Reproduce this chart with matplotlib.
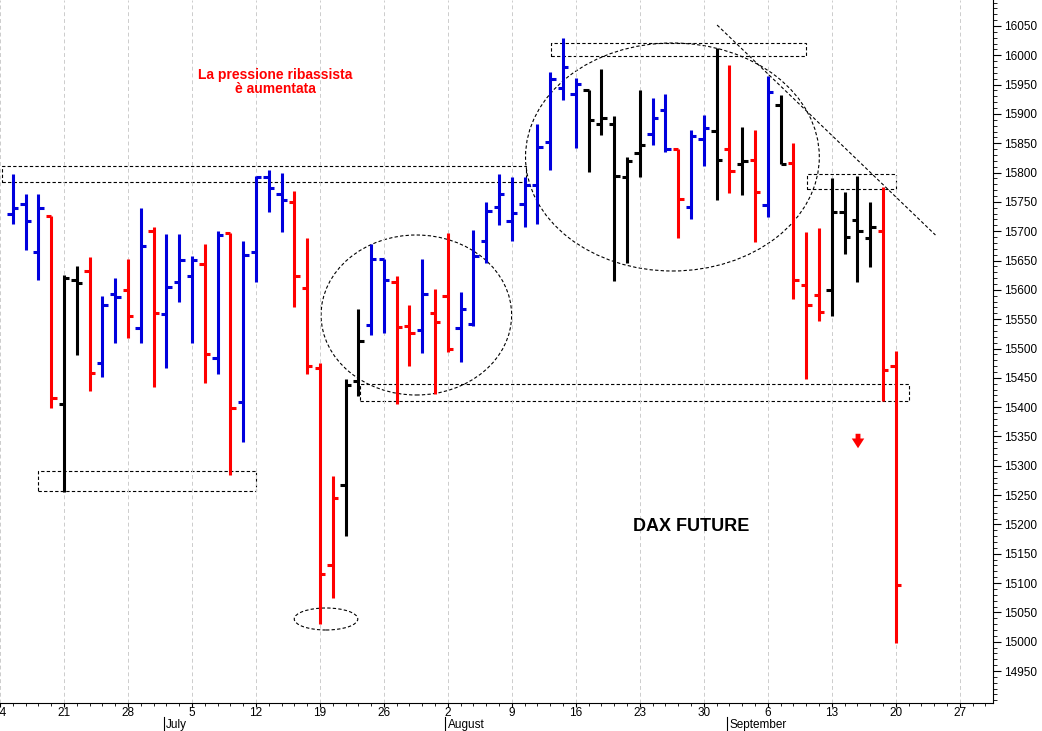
import matplotlib
matplotlib.use("Agg")
import matplotlib.pyplot as plt
from matplotlib.patches import Rectangle, Ellipse
from matplotlib.ticker import MultipleLocator

plt.rcParams['font.family'] = ['Liberation Sans', 'DejaVu Sans']

# trading-day index (0 = Mon 14 June 2021)
idx = list(range(1, 71))
opens = [15730, 15746, 15665, 15726, 15406, 15616, 15633, 15475, 15593, 15600,
         15535, 15701, 15558, 15613, 15623, 15644, 15483, 15697, 15409, 15665,
         15792, 15763, 15749, 15604, 15467, 15130, 15267, 15445, 15540, 15652,
         15613, 15539, 15532, 15561, 15590, 15535, 15541, 15683, 15741, 15718,
         15747, 15779, 15853, 15945, 15934, 15940, 15883, 15883, 15792, 15833,
         15866, 15906, 15841, 15742, 15857, 15871, 15841, 15815, 15821, 15745,
         15915, 15817, 15608, 15591, 15600, 15733, 15719, 15689, 15700, 15470]
highs = [15797, 15763, 15764, 15726, 15626, 15641, 15656, 15590, 15620, 15653,
         15740, 15708, 15695, 15695, 15658, 15679, 15701, 15697, 15683, 15795,
         15805, 15799, 15769, 15688, 15475, 15282, 15448, 15567, 15679, 15652,
         15624, 15575, 15652, 15601, 15697, 15596, 15702, 15749, 15798, 15792,
         15793, 15883, 15972, 16030, 15961, 15940, 15976, 15896, 15827, 15940,
         15928, 15934, 15841, 15873, 15898, 16012, 15983, 15877, 15872, 15964,
         15932, 15851, 15698, 15706, 15791, 15767, 15795, 15750, 15776, 15496]
lows = [15712, 15668, 15617, 15398, 15255, 15489, 15427, 15452, 15510, 15518,
        15510, 15434, 15467, 15579, 15510, 15441, 15457, 15285, 15340, 15613,
        15733, 15698, 15570, 15457, 15030, 15075, 15180, 15419, 15523, 15526,
        15405, 15470, 15492, 15422, 15494, 15477, 15539, 15646, 15710, 15683,
        15708, 15712, 15804, 15923, 15842, 15801, 15864, 15615, 15646, 15792,
        15847, 15835, 15689, 15720, 15812, 15753, 15766, 15762, 15681, 15724,
        15814, 15585, 15448, 15547, 15555, 15661, 15613, 15639, 15411, 14997]
closes = [15739, 15717, 15739, 15415, 15620, 15611, 15458, 15574, 15588, 15556,
          15675, 15560, 15605, 15651, 15651, 15490, 15694, 15399, 15659, 15792,
          15774, 15753, 15623, 15470, 15115, 15245, 15437, 15512, 15652, 15616,
          15537, 15527, 15593, 15546, 15499, 15567, 15658, 15735, 15764, 15731,
          15779, 15844, 15960, 15980, 15951, 15890, 15893, 15795, 15819, 15847,
          15893, 15841, 15755, 15863, 15876, 15821, 15802, 15819, 15767, 15937,
          15815, 15616, 15575, 15563, 15733, 15691, 15701, 15707, 15464, 15096]
colors = list("bbbrkkrbbrbrbbbrbrbbbbrrrrkkbbrrbrrbbbbbbbbbbkkkkkbbrbbkrkrbkrrrkkkkrr")
cmap = {'b': '#0000dd', 'r': '#ff0000', 'k': '#000000'}

tick_days = ['14', '21', '28', '5', '12', '19', '26', '2', '9', '16',
             '23', '30', '6', '13', '20', '27']
months = ['July', 'August', 'September']
month_pos = [13, 35, 57]

W, H = 1042, 731
fig = plt.figure(figsize=(W / 100, H / 100), dpi=100)
ax = fig.add_axes([0, 1 - 703 / H, 993 / W, 703 / H])

x0, x1 = 0.58, 77.6
y0, y1 = 14895.5, 16094.3
ax.set_xlim(x0, x1)
ax.set_ylim(y0, y1)


def px(x, y):
    # pixel -> data coordinates, for annotations
    return (x0 + x / 993 * (x1 - x0), y1 - y / 703 * (y1 - y0))


for i, o, h, l, c, col in zip(idx, opens, highs, lows, closes, colors):
    cc = cmap[col]
    ax.vlines(i, l, h, color=cc, lw=2.2)
    ax.hlines(o, i - 0.42, i, color=cc, lw=2.2)
    ax.hlines(c, i, i + 0.42, color=cc, lw=2.2)

# annotations
dash = dict(fill=False, ls=(0, (3, 2)), lw=0.8, ec='black')


def rect(xa, ya, xb, yb):
    a = px(xa, yb)
    b = px(xb, ya)
    ax.add_patch(Rectangle(a, b[0] - a[0], b[1] - a[1], **dash))


def ell(cx, cy, w, h):
    c = px(cx, cy)
    sx = (x1 - x0) / 993
    sy = (y1 - y0) / 703
    ax.add_patch(Ellipse(c, w * sx, h * sy, **dash))


rect(31, 471, 250, 491)
rect(-5, 166, 522, 182)
rect(548, 43, 805, 56)
rect(355, 384, 908, 401)
rect(806, 174, 895, 189)
ell(321, 619, 64, 22)
ell(412, 315, 192, 160)
ell(670, 157, 296, 228)
a, b = px(715, 25), px(935, 235)
ax.plot([a[0], b[0]], [a[1], b[1]], color='black', lw=0.8, ls=(0, (3, 2)))

ax.annotate('', xy=px(857, 451), xytext=px(857, 431),
            arrowprops=dict(arrowstyle='simple,head_width=0.9,head_length=0.7,tail_width=0.35',
                            color='red', lw=0))
ax.text(*px(270, 82), 'La pressione ribassista\nè aumentata', color='red',
        fontweight='bold', fontsize=10, ha='center', va='center', linespacing=1.0)
ax.text(*px(689, 527), 'DAX FUTURE', fontweight='bold', fontsize=13,
        ha='center', va='center')

# axes styling
ax.yaxis.tick_right()
ax.set_yticks(range(14950, 16051, 50))
ax.yaxis.set_minor_locator(MultipleLocator(10))
ax.tick_params(axis='y', which='major', length=6, labelsize=8.5, pad=2)
ax.tick_params(axis='y', which='minor', length=3)
ax.set_xticks([5 * k for k in range(16)])
ax.set_xticklabels(tick_days)
ax.xaxis.set_minor_locator(MultipleLocator(1))
ax.tick_params(axis='x', which='major', length=3, labelsize=8.5, pad=0)
ax.tick_params(axis='x', which='minor', length=2)
ax.grid(axis='x', which='major', color='#cccccc', ls=(0, (4, 3)), lw=0.7)
for s in ['top', 'left']:
    ax.spines[s].set_visible(False)

trans = ax.get_xaxis_transform()
for m, p in zip(months, month_pos):
    ax.text(p, -22 / 703, m, transform=trans, fontsize=8.5,
            ha='left', va='center', clip_on=False)
    ax.plot([p - 0.2, p - 0.2], [-14 / 703, -28 / 703], transform=trans,
            color='black', lw=0.8, clip_on=False)

fig.savefig('out.png', dpi=100)
